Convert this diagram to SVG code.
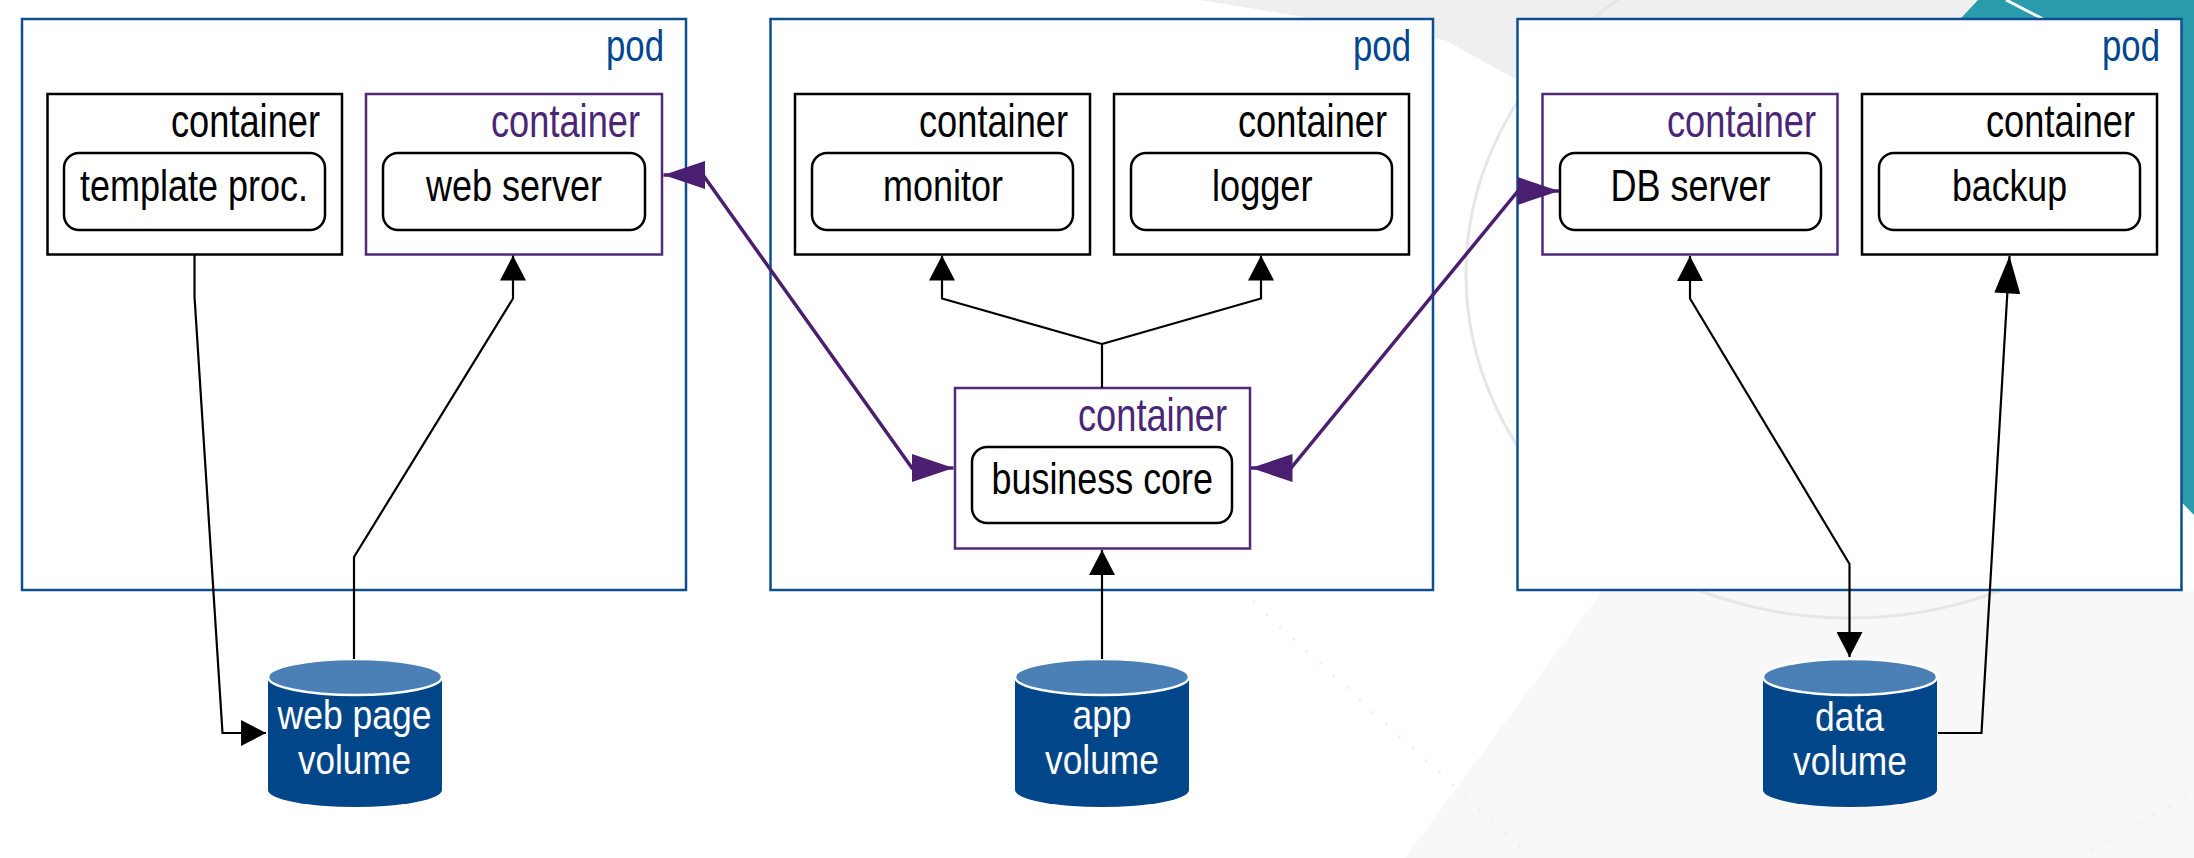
<svg xmlns="http://www.w3.org/2000/svg" width="2194" height="858" viewBox="0 0 2194 858">
<style>
.pod{fill:#fff;stroke:#0d4f8e;stroke-width:2.5}
.podt{font-family:"Liberation Sans",Arial,sans-serif;font-size:44px;fill:#00478f}
.cb{fill:#fff;stroke:#000;stroke-width:2.5}
.cp{fill:#fff;stroke:#4f2a7a;stroke-width:2.5}
.ct{font-family:"Liberation Sans",Arial,sans-serif;font-size:46px;fill:#000}
.ctp{font-family:"Liberation Sans",Arial,sans-serif;font-size:46px;fill:#4b2676}
.box{fill:#fff;stroke:#000;stroke-width:2.5}
.lbl{font-family:"Liberation Sans",Arial,sans-serif;font-size:45px;fill:#000}
.body{fill:#02468a}
.cap{fill:#4a80b5;stroke:#fff;stroke-width:2.5}
.vt{font-family:"Liberation Sans",Arial,sans-serif;font-size:40px;fill:#fff}
.blk{fill:none;stroke:#000;stroke-width:2.2;stroke-linejoin:miter}
.pur{fill:none;stroke:#4a1f70;stroke-width:3.5}
</style>
<defs>
<marker id="ab" markerUnits="userSpaceOnUse" markerWidth="26" markerHeight="26" refX="24" refY="12.5" orient="auto-start-reverse" viewBox="0 0 24 25">
<path d="M0,0 L24,12.5 L0,25 Z" fill="#000"/>
</marker>
<marker id="abl" markerUnits="userSpaceOnUse" markerWidth="38" markerHeight="26" refX="36" refY="12.5" orient="auto" viewBox="0 0 36 25">
<path d="M0,0 L36,12.5 L0,25 Z" fill="#000"/>
</marker>
<marker id="ap" markerUnits="userSpaceOnUse" markerWidth="42" markerHeight="28" refX="40" refY="13.5" orient="auto-start-reverse" viewBox="0 0 40 27">
<path d="M0,0 L40,13.5 L0,27 Z" fill="#4a1f70"/>
</marker>
</defs>
<rect x="0" y="0" width="2194" height="858" fill="#fff"/>
<g id="background">
<polygon points="1405,858 1602,591 2194,591 2194,858" fill="#f8f8f8"/>
<polygon points="1200,0 1985,0 1960,22 1517,80 1445,40" fill="#efefef"/>
<ellipse cx="1850" cy="274" rx="384" ry="344" fill="none" stroke="#e6e6e6" stroke-width="3"/>
<polygon points="1978,0 2194,0 2194,515 2160,480 1950,30" fill="#2a9bab"/>
<line x1="2006" y1="0" x2="2045" y2="20" stroke="#fff" stroke-width="3"/>
<line x1="1253" y1="602" x2="1527" y2="853" stroke="#efefef" stroke-width="3" stroke-dasharray="2,16"/>
<line x1="2090" y1="850" x2="2190" y2="795" stroke="#efefef" stroke-width="3" stroke-dasharray="2,16"/>
</g>
<g id="pod1">
<rect class="pod" x="22" y="19" width="664" height="571"/>
<text class="podt" x="606" y="61" textLength="58" lengthAdjust="spacingAndGlyphs">pod</text>
</g>
<g id="pod2">
<rect class="pod" x="770.5" y="19" width="662.5" height="571"/>
<text class="podt" x="1353" y="61" textLength="58" lengthAdjust="spacingAndGlyphs">pod</text>
</g>
<g id="pod3">
<rect class="pod" x="1517.5" y="19" width="664" height="571"/>
<text class="podt" x="2102" y="61" textLength="58" lengthAdjust="spacingAndGlyphs">pod</text>
</g>
<g id="container-template">
<rect class="cb" x="47.5" y="94" width="294.5" height="160.5"/>
<text class="ct" x="171" y="137" textLength="149" lengthAdjust="spacingAndGlyphs">container</text>
<rect class="box" x="64" y="153" width="261" height="77" rx="15"/>
<text class="lbl" x="80" y="200.5" textLength="228" lengthAdjust="spacingAndGlyphs">template proc.</text>
</g>
<g id="container-webserver">
<rect class="cp" x="366" y="94" width="296" height="160.5"/>
<text class="ctp" x="491" y="137" textLength="149" lengthAdjust="spacingAndGlyphs">container</text>
<rect class="box" x="383" y="153" width="262" height="77" rx="15"/>
<text class="lbl" x="426" y="200.5" textLength="176" lengthAdjust="spacingAndGlyphs">web server</text>
</g>
<g id="container-monitor">
<rect class="cb" x="795" y="94" width="295" height="160.5"/>
<text class="ct" x="919" y="137" textLength="149" lengthAdjust="spacingAndGlyphs">container</text>
<rect class="box" x="812" y="153" width="261" height="77" rx="15"/>
<text class="lbl" x="883" y="200.5" textLength="120" lengthAdjust="spacingAndGlyphs">monitor</text>
</g>
<g id="container-logger">
<rect class="cb" x="1114" y="94" width="295" height="160.5"/>
<text class="ct" x="1238" y="137" textLength="149" lengthAdjust="spacingAndGlyphs">container</text>
<rect class="box" x="1131" y="153" width="261" height="77" rx="15"/>
<text class="lbl" x="1212" y="200.5" textLength="100.5" lengthAdjust="spacingAndGlyphs">logger</text>
</g>
<g id="container-business">
<rect class="cp" x="955" y="388" width="295" height="160.5"/>
<text class="ctp" x="1078" y="431" textLength="149" lengthAdjust="spacingAndGlyphs">container</text>
<rect class="box" x="972" y="447" width="260" height="76" rx="15"/>
<text class="lbl" x="991.5" y="494" textLength="221.5" lengthAdjust="spacingAndGlyphs">business core</text>
</g>
<g id="container-db">
<rect class="cp" x="1542.5" y="94" width="295" height="160.5"/>
<text class="ctp" x="1667" y="137" textLength="149" lengthAdjust="spacingAndGlyphs">container</text>
<rect class="box" x="1560" y="153" width="261" height="77" rx="15"/>
<text class="lbl" x="1610.5" y="200.5" textLength="160" lengthAdjust="spacingAndGlyphs">DB server</text>
</g>
<g id="container-backup">
<rect class="cb" x="1862" y="94" width="295" height="160.5"/>
<text class="ct" x="1986" y="137" textLength="149" lengthAdjust="spacingAndGlyphs">container</text>
<rect class="box" x="1879" y="153" width="261" height="77" rx="15"/>
<text class="lbl" x="1952" y="200.5" textLength="115" lengthAdjust="spacingAndGlyphs">backup</text>
</g>
<g id="vol-webpage">
<path class="body" d="M268,677 L268,790 A87,17 0 0 0 442,790 L442,677 Z"/>
<ellipse class="cap" cx="355" cy="677" rx="87" ry="18"/>
<text class="vt" x="277.5" y="729" textLength="154" lengthAdjust="spacingAndGlyphs">web page</text>
<text class="vt" x="298" y="774" textLength="113" lengthAdjust="spacingAndGlyphs">volume</text>
</g>
<g id="vol-app">
<path class="body" d="M1015,677 L1015,790 A87,17 0 0 0 1189,790 L1189,677 Z"/>
<ellipse class="cap" cx="1102" cy="677" rx="87" ry="18"/>
<text class="vt" x="1072.5" y="729" textLength="59" lengthAdjust="spacingAndGlyphs">app</text>
<text class="vt" x="1045" y="774" textLength="114" lengthAdjust="spacingAndGlyphs">volume</text>
</g>
<g id="vol-data">
<path class="body" d="M1763,677 L1763,790 A87,17 0 0 0 1937,790 L1937,677 Z"/>
<ellipse class="cap" cx="1850" cy="677" rx="87" ry="18"/>
<text class="vt" x="1815" y="731" textLength="69" lengthAdjust="spacingAndGlyphs">data</text>
<text class="vt" x="1793" y="775" textLength="114" lengthAdjust="spacingAndGlyphs">volume</text>
</g>
<g id="connectors">
<path class="blk" d="M194.5,254.5 L194.5,296.5 L222.5,733 L266,733" marker-end="url(#ab)"/>
<path class="blk" d="M354,659 L354,557 L513,298.5 L513,255.5" marker-end="url(#ab)"/>
<path class="blk" d="M1102,388 L1102,344 L942,298.5 L942,255.5" marker-end="url(#ab)"/>
<path class="blk" d="M1102,344 L1261,298.5 L1261,255.5" marker-end="url(#ab)"/>
<path class="blk" d="M1102,659 L1102,550" marker-end="url(#ab)"/>
<path class="blk" d="M1690,256 L1690,298.5 L1849.5,564 L1849.5,657" marker-start="url(#ab)" marker-end="url(#ab)"/>
<path class="blk" d="M1938,733 L1981.5,733 L2009.5,256" marker-end="url(#abl)"/>
<path class="pur" d="M663.5,175 L703,175 L912,468 L953.5,468" marker-start="url(#ap)" marker-end="url(#ap)"/>
<path class="pur" d="M1251,468 L1291,468 L1518,191 L1559,191" marker-start="url(#ap)" marker-end="url(#ap)"/>
</g>
</svg>
